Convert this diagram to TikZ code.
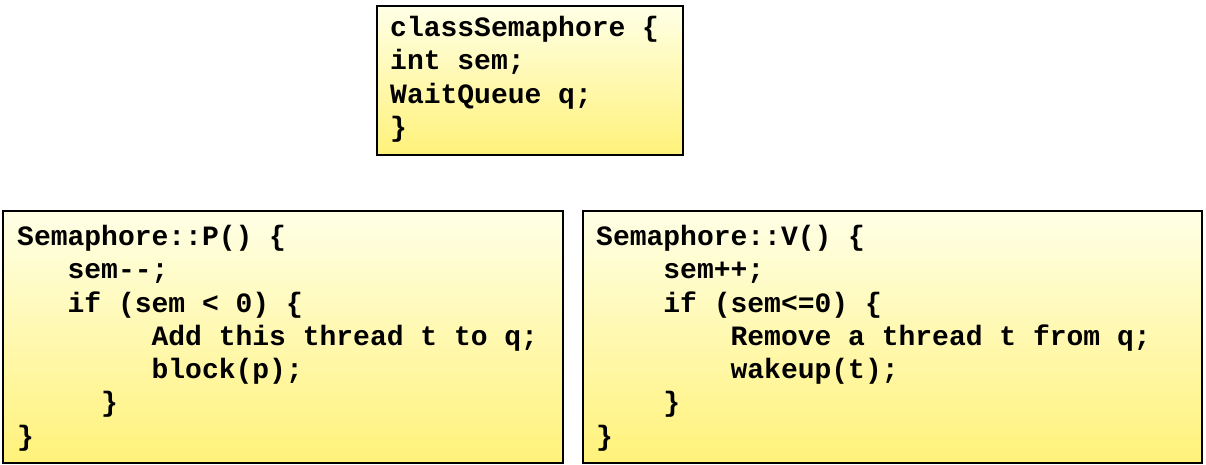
\documentclass[tikz,border=0pt]{standalone}
\usepackage{fontspec}
\setmonofont{Liberation Mono}
\definecolor{boxtop}{HTML}{FFFFE6}
\definecolor{boxbot}{HTML}{FFF27A}
\newcommand{\ind}[1]{\hspace*{#1\fontcharwd\font`M}}
\begin{document}
\begin{tikzpicture}[x=1pt,y=-1pt,
    codebox/.style={draw,line width=2.2pt,top color=boxtop,bottom color=boxbot},
    code/.style={anchor=north west,inner sep=0pt,align=left,
      font=\fontsize{28}{33.3}\selectfont\ttfamily\bfseries}]
  \useasboundingbox (0,0) rectangle (1206,465);
  % boxes
  \path[codebox] (377,6) rectangle (683,155);
  \path[codebox] (3,211) rectangle (563,463);
  \path[codebox] (583,211) rectangle (1202,463);
  % code
  \node[code] (cls) at (390,16) {classSemaphore \{\\int sem;\\WaitQueue q;\\\}};
  \node[code] (pop) at (17,225) {Semaphore::P() \{\\
    \ind{3}sem--;\\
    \ind{3}if (sem < 0) \{\\
    \ind{8}Add this thread t to q;\\
    \ind{8}block(p);\\
    \ind{5}\}\\
    \}};
  \node[code] (vop) at (596,225) {Semaphore::V() \{\\
    \ind{4}sem++;\\
    \ind{4}if (sem<=0) \{\\
    \ind{8}Remove a thread t from q;\\
    \ind{8}wakeup(t);\\
    \ind{4}\}\\
    \}};
\end{tikzpicture}
\end{document}
